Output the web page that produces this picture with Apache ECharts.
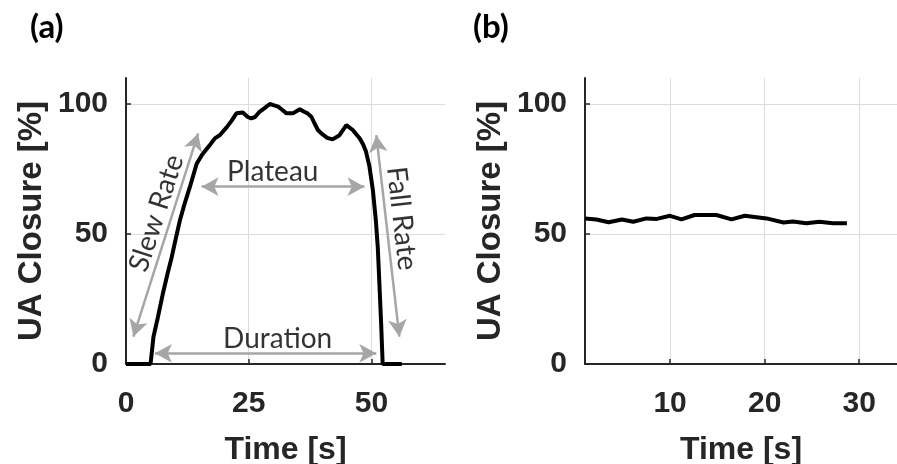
<!DOCTYPE html>
<html>
	<head>
		<meta charset="utf-8">
		<title>UA Closure</title>
		<script src="https://cdn.jsdelivr.net/npm/echarts@6/dist/echarts.min.js"></script>
		<style type="text/css">
			html, body{
				margin: 0;
				padding: 0;
				background: #fff;
			}
			#chart{
				width: 897px;
				height: 464px;
			}
		</style>
	</head>
	<body>
		<div id="chart"></div>
		<script>
			// (a) 一次闭合事件
			var timeA = [0, 1, 2, 3, 4, 5, 5.6, 6.5, 7.5, 8.5, 9.3, 10, 11, 12, 13, 14.4, 15.5, 17, 18.1, 19.1, 20.5, 21.5, 22.5, 23.8, 24.8, 25.5, 26.3, 27.2, 28.3, 29.3, 30.2, 31, 32, 32.7, 34, 35.4, 36.3, 37, 37.8, 38.4, 39.1, 39.8, 41, 42.1, 43.5, 44.9, 45.5, 46.2, 47.6, 48.3, 48.9, 49.6, 50.3, 50.9, 51.3, 51.6, 52, 52.3, 53, 54, 55, 56.2];
			var closureA = [0, 0, 0, 0, 0, 0, 10.5, 18, 27, 35, 41, 47, 55.4, 62, 68, 77, 80.5, 84, 86.8, 88, 91, 93.5, 96.4, 96.7, 95, 94.5, 95, 97, 98.5, 100, 99.5, 99, 97.5, 96.4, 96.4, 98, 97, 96.4, 95, 92.6, 90, 88.7, 87, 86.4, 88, 91.9, 91, 90, 86.8, 84.5, 81.7, 76, 66.9, 55.4, 45, 32.3, 15, 0, 0, 0, 0, 0];

			// (b) 平稳段
			var timeB = [1, 2.2, 3.5, 4.9, 6.1, 7.5, 8.6, 10, 11.2, 12.6, 14.9, 16.5, 17.9, 20.2, 22, 23, 24.4, 25.8, 27.2, 28.7];
			var closureB = [56, 55.6, 54.5, 55.6, 54.7, 56, 55.8, 57, 55.6, 57.3, 57.3, 55.6, 57, 56, 54.4, 54.8, 54.1, 54.7, 54.1, 54.1];

			// 刻度
			var yTicks = [0, 50, 100];
			var xTicksA = [0, 25, 50];
			var xTicksB = [10, 20, 30];

			// 标注（双向箭头 + 文字）
			var arrows = [
				[[1.5, 10.5], [14.7, 88.7]],
				[[15.4, 68.2], [48.6, 68.2]],
				[[5.9, 4.1], [51.0, 4.1]],
				[[51.0, 88.0], [55.7, 10.5]]
			];
			var annoNames = ['Slew Rate', 'Plateau', 'Duration', 'Fall Rate'];
			var annoPos = [[6.2, 58], [29.9, 74], [30.9, 9.6], [56.2, 56]];
			var annoRotate = [72, 0, 0, -83.5];

			function pairs(xs, ys){
				return xs.map(function(x, i){ return [x, ys[i]]; });
			}

			var dark = '#262626';
			var boldFont = 'Liberation Sans';

			function xAxis(idx, min, max, ticks){
				return {
					type: 'value',
					gridIndex: idx,
					min: min,
					max: max,
					name: 'Time [s]',
					nameLocation: 'middle',
					nameGap: 70,
					nameTextStyle: {color: dark, fontSize: 32, fontWeight: 'bold', fontFamily: boldFont},
					axisLine: {lineStyle: {color: dark, width: 2}},
					axisTick: {inside: true, length: 5, customValues: ticks, lineStyle: {color: dark, width: 1.5}},
					axisLabel: {customValues: ticks, margin: 25, color: dark, fontSize: 30, fontWeight: 'bold', fontFamily: boldFont},
					splitLine: {show: true, lineStyle: {color: '#dcdcdc', width: 1}}
				};
			}

			function yAxis(idx){
				return {
					type: 'value',
					gridIndex: idx,
					min: 0,
					max: 110,
					name: 'UA Closure [%]',
					nameLocation: 'middle',
					nameGap: 78,
					nameTextStyle: {color: dark, fontSize: 33, fontWeight: 'bold', fontFamily: boldFont},
					axisLine: {show: true, lineStyle: {color: dark, width: 2}},
					axisTick: {show: true, inside: true, length: 5, customValues: yTicks, lineStyle: {color: dark, width: 1.5}},
					axisLabel: {customValues: yTicks, margin: 18, color: dark, fontSize: 30, fontWeight: 'bold', fontFamily: boldFont},
					splitLine: {show: true, lineStyle: {color: '#dcdcdc', width: 1}}
				};
			}

			var chart = echarts.init(document.getElementById('chart'), null, {renderer: 'canvas'});

			var option = {
				animation: false,
				title: [
					{text: '(a)', left: 25, top: 6, textStyle: {color: '#000', fontSize: 33, fontWeight: 'bold', fontFamily: 'Lato'}},
					{text: '(b)', left: 468, top: 6, textStyle: {color: '#000', fontSize: 33, fontWeight: 'bold', fontFamily: 'Lato'}}
				],
				grid: [
					{left: 126, top: 78, width: 319, height: 286, containLabel: false, outerBoundsMode: 'none'},
					{left: 585, top: 78, width: 312, height: 286, containLabel: false, outerBoundsMode: 'none'}
				],
				xAxis: [xAxis(0, 0, 65, xTicksA), xAxis(1, 1, 34, xTicksB)],
				yAxis: [yAxis(0), yAxis(1)],
				series: [{
					name: 'a',
					type: 'line',
					xAxisIndex: 0,
					yAxisIndex: 0,
					symbol: 'none',
					lineStyle: {color: '#000', width: 4},
					data: pairs(timeA, closureA),
					markLine: {
						silent: true,
						symbol: ['arrow', 'arrow'],
						symbolSize: [14, 17],
						label: {show: false},
						lineStyle: {color: '#a6a6a6', width: 2.5, type: 'solid'},
						data: arrows.map(function(a){
							return [{coord: a[0]}, {coord: a[1]}];
						})
					}
				}, {
					name: 'labels',
					type: 'scatter',
					xAxisIndex: 0,
					yAxisIndex: 0,
					symbolSize: 0,
					silent: true,
					data: annoNames.map(function(n, i){
						return {
							name: n,
							value: annoPos[i],
							label: {rotate: annoRotate[i]}
						};
					}),
					label: {
						show: true,
						position: 'inside',
						formatter: '{b}',
						color: '#000',
						fontSize: 28,
						fontFamily: 'Lato'
					}
				}, {
					name: 'b',
					type: 'line',
					xAxisIndex: 1,
					yAxisIndex: 1,
					symbol: 'none',
					lineStyle: {color: '#000', width: 4},
					data: pairs(timeB, closureB)
				}]
			};

			chart.setOption(option);
		</script>
	</body>
</html>
